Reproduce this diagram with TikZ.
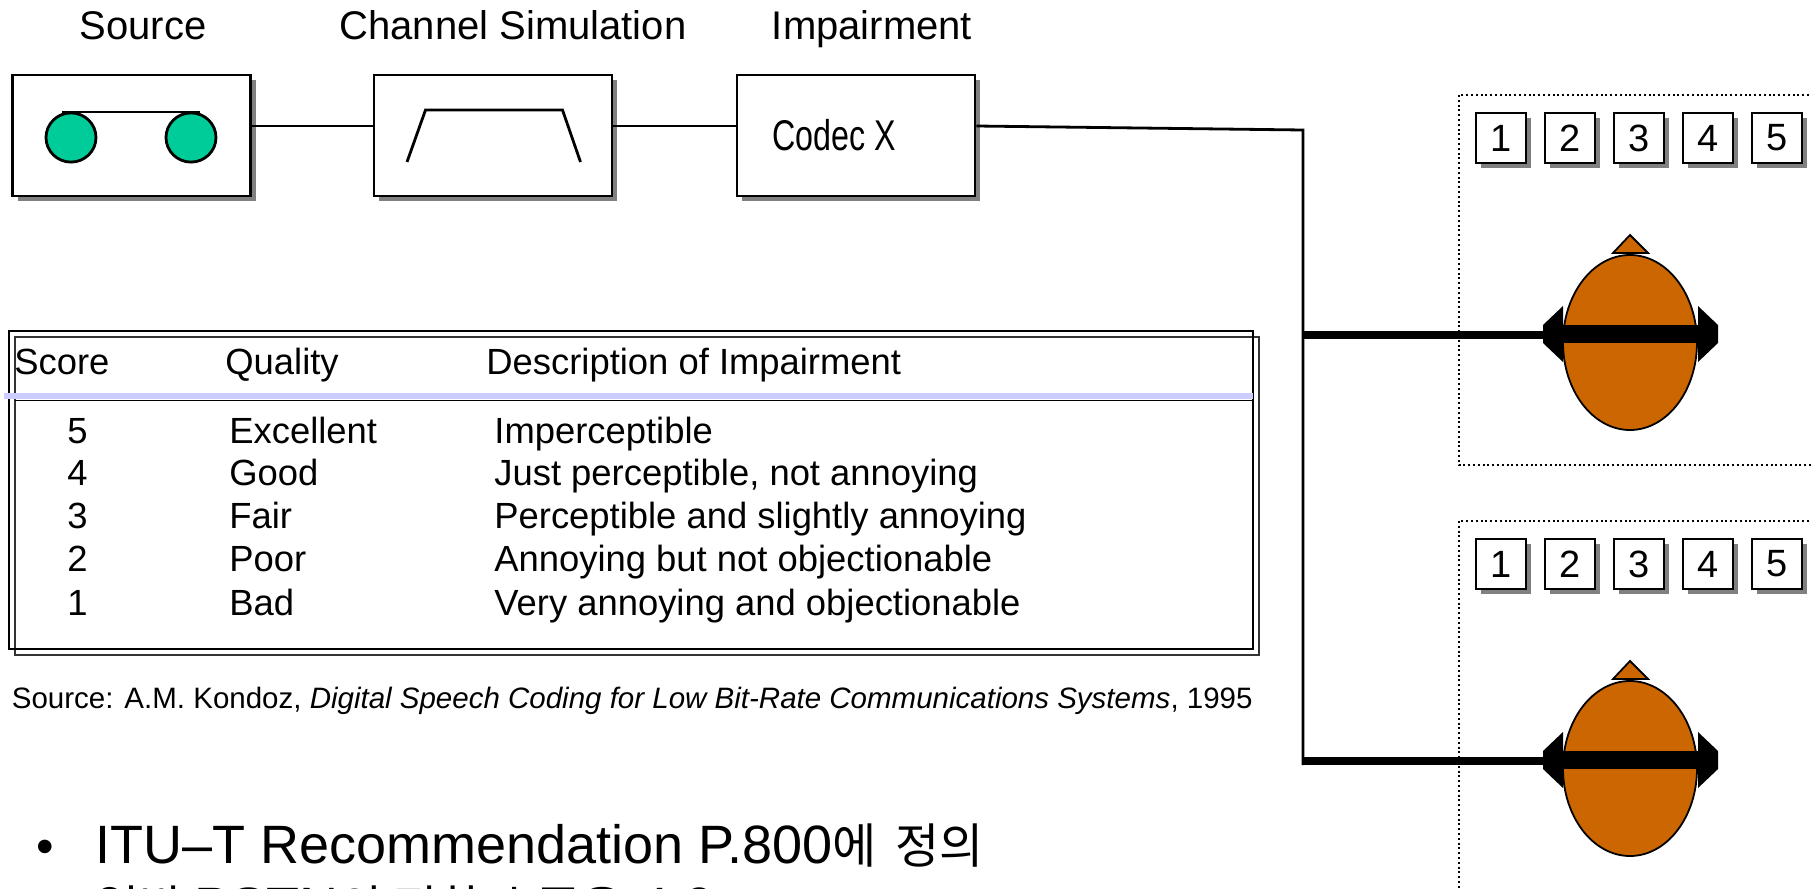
\documentclass[tikz,border=0pt]{standalone}
\usepackage{fontspec}
\setmainfont{Liberation Sans}
\newfontfamily\kr{Noto Sans CJK KR}
\usetikzlibrary{shadows,calc}
\definecolor{srcgreen}{RGB}{0,204,153}
\definecolor{headorange}{RGB}{204,102,0}
\definecolor{hdrline}{RGB}{204,204,255}
\definecolor{shadowgray}{RGB}{128,128,128}
\begin{document}
\begin{tikzpicture}[x=0.5pt,y=-0.5pt,
  shade box/.style={drop shadow={shadow xshift=2.5pt,shadow yshift=-2.5pt,fill=shadowgray,opacity=1}},
  blockbox/.style={draw=black,line width=1.4pt,fill=white,minimum width=119pt,minimum height=60.5pt,inner sep=0pt,shade box},
  scorebox/.style={draw=black,line width=1.1pt,fill=white,minimum size=25pt,inner sep=0pt,shade box,font=\fontsize{19}{19}\selectfont},
  conn/.style={line width=1.4pt},
  feed/.style={line width=4pt},
  panel/.style={draw=black,line width=1pt,dash pattern=on 1pt off 1.4pt},
  toplabel/.style={anchor=base,inner sep=0pt,font=\fontsize{20}{24}\selectfont},
  cell/.style={anchor=base west,inner sep=0pt,font=\fontsize{18.2}{22}\selectfont},
  bodytext/.style={anchor=base west,inner sep=0pt,font=\fontsize{27}{32}\selectfont},
]
\useasboundingbox (0,0) rectangle (1811,889);
\clip (0,0) rectangle (1811,889);

% ---- labels above the chain
\node[toplabel] (lsrc) at (143,39.5) {Source};
\node[toplabel] (lchan) at (513,39.5) {Channel Simulation};
\node[toplabel] (limp) at (872,39.5) {Impairment};

% ---- processing chain
\node[blockbox] (src) at (131.5,135.5) {};
\node[blockbox] (chan) at (493,135.5) {};
\node[blockbox] (codec) at (856,135.5) {};
\node[anchor=base west,inner sep=0pt,font=\fontsize{21.5}{24}\selectfont] (codectxt) at (772,150) {\scalebox{0.75}[1]{Codec X}};

% tape reels
\draw[line width=1.4pt] (62,112) -- (200,112);
\draw[line width=1.4pt,fill=srcgreen] (71,137.5) ellipse [x radius=12.5pt,y radius=12.3pt];
\draw[line width=1.4pt,fill=srcgreen] (191,137.5) ellipse [x radius=12.5pt,y radius=12.3pt];
% band-pass response
\draw[line width=1.4pt] (407,162) -- (425.5,110) -- (562.5,110) -- (580.5,162);

\coordinate (lineY) at (0,126);
\coordinate (trunkTop) at (1303,130);
\coordinate (trunkBot) at (1303,765);
\draw[conn] (src.east |- lineY) -- (chan.west |- lineY);
\draw[conn] (chan.east |- lineY) -- (codec.west |- lineY);
\draw[conn] (codec.east |- lineY) -- (trunkTop) -- (trunkBot);

% ---- listeners
\foreach \dy/\k in {0/1,426/2}{
  \begin{scope}[shift={(0,\dy)}]
    \draw[panel] (1459,95) rectangle (1840,465);
    \node[scorebox] (s\k a) at (1501,138) {1};
    \node[scorebox] (s\k b) at (1570,138) {2};
    \node[scorebox] (s\k c) at (1639,138) {3};
    \node[scorebox] (s\k d) at (1708,138) {4};
    \node[scorebox] (s\k e) at (1777,138) {5};
    \draw[line width=0.9pt,fill=headorange] (1613,253) -- (1630,235) -- (1648,253) -- cycle;
    \draw[line width=0.9pt,fill=headorange] (1630,342.5) ellipse [x radius=33.5pt,y radius=43.75pt];
    \fill[black] (1563,306) -- (1543,325) -- (1543,343) -- (1563,362) -- cycle;
    \fill[black] (1698,306) -- (1718,325) -- (1718,343) -- (1698,362) -- cycle;
    \fill[black] (1562,325) rectangle (1699,343);
    \coordinate (ear\k) at (1543,335);
  \end{scope}
  \draw[feed] (trunkTop |- ear\k) -- (ear\k);
}

% ---- rating table
\draw[line width=0.8pt,draw=black!80] (15,337) rectangle (1259,655);
\draw[line width=1.3pt] (9,331) rectangle (1253,649);
\draw[line width=2.6pt,hdrline] (4,396) -- (1253,396);
\draw[line width=0.8pt] (15,400.5) -- (1253,400.5);

\node[cell] (hscore) at (14,374.5) {Score};
\node[cell] (hqual) at (225,374.5) {Quality};
\node[cell] (hdesc) at (486,374.5) {Description of Impairment};

\node[cell] (r5a) at (67,443) {5};
\node[cell] (r5b) at (229,443) {Excellent};
\node[cell] (r5c) at (494,443) {Imperceptible};
\node[cell] (r4a) at (67,485.5) {4};
\node[cell] (r4b) at (229,485.5) {Good};
\node[cell] (r4c) at (494,485.5) {Just perceptible, not annoying};
\node[cell] (r3a) at (67,528) {3};
\node[cell] (r3b) at (229,528) {Fair};
\node[cell] (r3c) at (494,528) {Perceptible and slightly annoying};
\node[cell] (r2a) at (67,571) {2};
\node[cell] (r2b) at (229,571) {Poor};
\node[cell] (r2c) at (494,571) {Annoying but not objectionable};
\node[cell] (r1a) at (67,615) {1};
\node[cell] (r1b) at (229,615) {Bad};
\node[cell] (r1c) at (494,615) {Very annoying and objectionable};

\node[anchor=base west,inner sep=0pt,font=\fontsize{14.75}{18}\selectfont] (cite) at (11.5,708.5)
  {Source: A.M. Kondoz, \textit{Digital Speech Coding for Low Bit-Rate Communications Systems}, 1995};

% ---- bullet text
\node[anchor=base,inner sep=0pt,font=\fontsize{25}{30}\selectfont] (bul) at (45,863) {•};
\node[bodytext] (line1) at (95,863) {ITU–T Recommendation P.800{\kr\fontsize{24}{30}\selectfont 에 \,정의}};
\node[bodytext] (line2) at (95,925) {{\kr\fontsize{24}{30}\selectfont 일반 }PSTN{\kr\fontsize{24}{30}\selectfont 의 전화 수준은} 4.0};
\end{tikzpicture}
\end{document}
